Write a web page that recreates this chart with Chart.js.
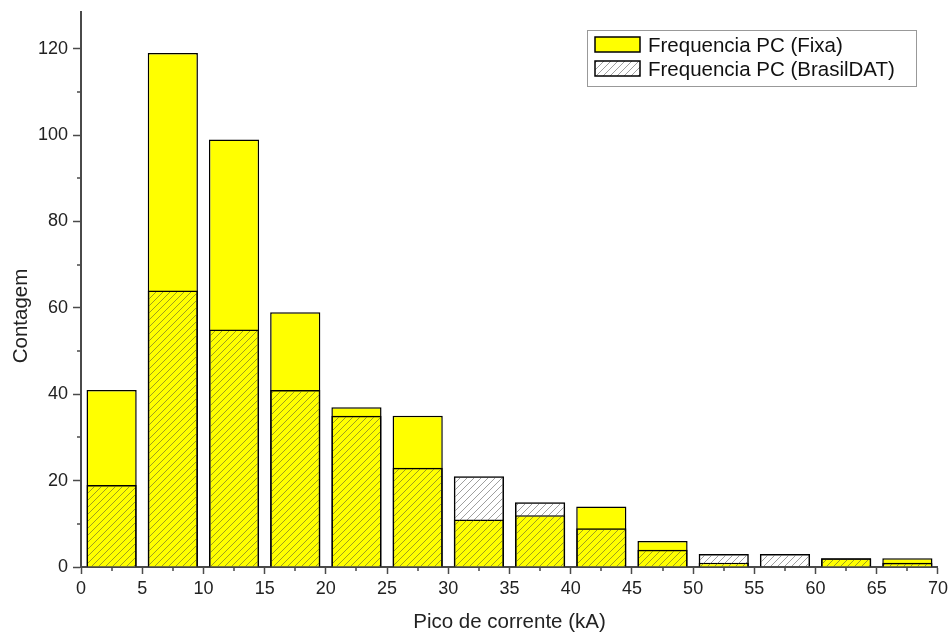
<!DOCTYPE html>
<html>
<head>
<meta charset="utf-8">
<script src="https://cdn.jsdelivr.net/npm/chart.js@4.4.1/dist/chart.umd.min.js"></script>
<style>
  html, body { margin: 0; padding: 0; background: #fff; }
  #wrap { width: 952px; height: 633px; }
</style>
</head>
<body>
<div id="wrap"><canvas id="Grafica" width="952" height="633"></canvas></div>
<script>
// centros das classes (kA)
const binCenters = [2.5, 7.5, 12.5, 17.5, 22.5, 27.5, 32.5, 37.5, 42.5, 47.5, 52.5, 57.5, 62.5, 67.5];
const freqFixa = [41, 119, 99, 59, 37, 35, 11, 12, 14, 6, 1, 0, 2, 2];
const freqBrasilDAT = [19, 64, 55, 41, 35, 23, 21, 15, 9, 4, 3, 3, 2, 1];
const labelFixa = 'Frequencia PC (Fixa)';
const labelBrasil = 'Frequencia PC (BrasilDAT)';
const yTitle = 'Contagem';

const FONT = 'Arial, "Liberation Sans", sans-serif';
const AXIS = '#4a4a4a';

function makeHatch(){
    let c = document.createElement('canvas');
    c.width = 7; c.height = 7;
    let g = c.getContext('2d');
    g.strokeStyle = 'rgba(60,60,60,0.7)';
    g.lineWidth = 0.7;
    g.beginPath();
    g.moveTo(0, 7); g.lineTo(7, 0);
    g.moveTo(-1, 1); g.lineTo(1, -1);
    g.moveTo(6, 8); g.lineTo(8, 6);
    g.stroke();
    return g.createPattern(c, 'repeat');
}
const hatch = makeHatch();

function toPoints(values){
    return binCenters.map((x, i) => ({x: x, y: values[i]}));
}

// ticks menores, titulo do eixo y e legenda com moldura
const extras = {
    id: 'extras',
    afterDraw(chart){
        let ctx = chart.ctx;
        let xs = chart.scales.x, ys = chart.scales.y;
        let area = chart.chartArea;
        ctx.save();
        ctx.strokeStyle = AXIS;
        ctx.lineWidth = 1.5;
        ctx.beginPath();
        for (let v = 2.5; v < 70; v += 5){
            let px = Math.round(xs.getPixelForValue(v));
            ctx.moveTo(px, area.bottom); ctx.lineTo(px, area.bottom + 4);
        }
        for (let v = 10; v < 130; v += 20){
            let py = Math.round(ys.getPixelForValue(v));
            ctx.moveTo(area.left, py); ctx.lineTo(area.left - 4, py);
        }
        ctx.stroke();

        // titulo y (um pouco abaixo do centro, como no original)
        ctx.save();
        ctx.translate(21, 316);
        ctx.rotate(-Math.PI / 2);
        ctx.font = '20.5px ' + FONT;
        ctx.fillStyle = '#222';
        ctx.textAlign = 'center';
        ctx.textBaseline = 'middle';
        ctx.fillText(yTitle, 0, 0);
        ctx.restore();

        // legenda
        let lx = 587, ly = 30, lw = 329, lh = 56;
        ctx.fillStyle = '#fff';
        ctx.fillRect(lx, ly, lw, lh);
        ctx.strokeStyle = '#999';
        ctx.lineWidth = 1;
        ctx.strokeRect(lx + 0.5, ly + 0.5, lw, lh);
        let items = [
            {label: labelFixa, fill: '#ffff00'},
            {label: labelBrasil, fill: hatch}
        ];
        ctx.font = '20.5px ' + FONT;
        ctx.textBaseline = 'middle';
        items.forEach((it, i) => {
            let sy = 37 + i * 24;
            ctx.fillStyle = '#fff';
            ctx.fillRect(595, sy, 45, 15);
            ctx.fillStyle = it.fill;
            ctx.fillRect(595, sy, 45, 15);
            ctx.strokeStyle = '#000';
            ctx.lineWidth = 1.5;
            ctx.strokeRect(595, sy, 45, 15);
            ctx.fillStyle = '#111';
            ctx.fillText(it.label, 648, sy + 9.5);
        });
        ctx.restore();
    }
};

let config = {
    type: 'bar',
    data: {
        datasets: [
            {
                label: labelFixa,
                data: toPoints(freqFixa),
                backgroundColor: '#ffff00',
                borderColor: '#000',
                borderWidth: 1.5,
                borderSkipped: 'bottom',
                grouped: false,
                order: 2,
                barPercentage: 0.82,
                categoryPercentage: 1
            },
            {
                label: labelBrasil,
                data: toPoints(freqBrasilDAT),
                backgroundColor: hatch,
                borderColor: '#000',
                borderWidth: 1.5,
                borderSkipped: 'bottom',
                grouped: false,
                order: 1,
                barPercentage: 0.82,
                categoryPercentage: 1
            }
        ]
    },
    options: {
        responsive: false,
        animation: false,
        layout: { padding: { left: 0, right: 14, top: 12, bottom: 0 } },
        plugins: {
            legend: { display: false },
            tooltip: { enabled: false }
        },
        scales: {
            x: {
                type: 'linear',
                min: 0, max: 70,
                offset: false,
                ticks: { stepSize: 5, color: '#222', font: { family: FONT, size: 18 }, padding: 4, maxRotation: 0 },
                grid: { drawOnChartArea: false, tickLength: 7, tickColor: AXIS, tickWidth: 1.5, offset: false },
                border: { color: AXIS, width: 2 },
                title: { display: true, text: 'Pico de corrente (kA)', color: '#222', font: { family: FONT, size: 20.5 }, padding: { top: 4, bottom: -2 } },
                afterFit(scale){ scale.height = 66; }
            },
            y: {
                min: 0, max: 128.5,
                afterBuildTicks(scale){
                    scale.ticks = [0, 20, 40, 60, 80, 100, 120].map(v => ({value: v}));
                },
                ticks: { color: '#222', font: { family: FONT, size: 18 }, padding: 5 },
                grid: { drawOnChartArea: false, tickLength: 8, tickColor: AXIS, tickWidth: 1.5 },
                border: { color: AXIS, width: 2 },
                title: { display: false },
                afterFit(scale){
                    scale.width = 81;
                    scale.paddingTop = 0;
                    scale.paddingBottom = 0;
                }
            }
        }
    },
    plugins: [extras]
};

new Chart(document.getElementById('Grafica').getContext('2d'), config);
</script>
</body>
</html>
